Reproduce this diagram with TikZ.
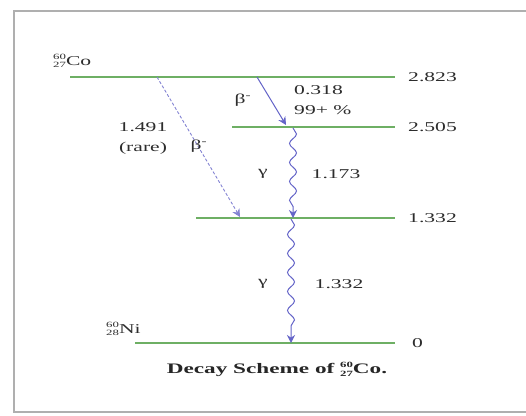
\documentclass[tikz,border=0pt]{standalone}
\usepackage{fontspec}
\setmainfont{Liberation Serif}[FakeStretch=1.6]
\usetikzlibrary{decorations.pathmorphing,arrows.meta}
\definecolor{lvl}{RGB}{110,175,100}
\definecolor{arr}{RGB}{100,100,200}
\definecolor{txt}{RGB}{45,45,45}
\definecolor{frm}{RGB}{175,175,175}
\newcommand\nucl[3]{{\renewcommand\arraystretch{0.55}\begin{tabular}[c]{@{}r@{}}\fontsize{8}{8}\selectfont #1\\\fontsize{8}{8}\selectfont #2\end{tabular}}#3}
\begin{document}
\begin{tikzpicture}[x=1pt,y=-1pt,
  lvlline/.style={lvl, line width=1.6pt},
  lbl/.style={text=txt, font=\fontsize{13.5}{15}\selectfont, inner sep=0pt},
  betaarrow/.style={arr, line width=1pt, -{Stealth[length=8pt,width=8pt]}},
  dasharrow/.style={arr!80, line width=0.9pt, dash pattern=on 3pt off 2pt, -{Stealth[length=8pt,width=8pt]}},
  gammaarrow/.style={arr, line width=1pt, decorate,
    decoration={snake, amplitude=3.5pt, segment length=19pt, post length=9pt},
    -{Stealth[length=8pt,width=8pt]}}]
\useasboundingbox (0,0) rectangle (526,415);
\fill[white] (0,0) rectangle (526,415);
% frame
\draw[frm, line width=1.8pt] (530,11) -- (14,11) -- (14,412) -- (530,412);
% level coordinates
\coordinate (L0a) at (70,77);  \coordinate (L0b) at (395,77);
\coordinate (L1a) at (232,127); \coordinate (L1b) at (395,127);
\coordinate (L2a) at (196,218); \coordinate (L2b) at (395,218);
\coordinate (L3a) at (135,343); \coordinate (L3b) at (395,343);
\draw[lvlline] (L0a) -- (L0b);
\draw[lvlline] (L1a) -- (L1b);
\draw[lvlline] (L2a) -- (L2b);
\draw[lvlline] (L3a) -- (L3b);
% energy labels
\node[lbl, anchor=west] (e0) at (408,77) {2.823};
\node[lbl, anchor=west] (e1) at (408,127) {2.505};
\node[lbl, anchor=west] (e2) at (408,218) {1.332};
\node[lbl, anchor=west] (e3) at (412,343) {0};
% nuclide labels
\node[lbl, anchor=west] (co) at (53,62) {\nucl{60}{27}{Co}};
\node[lbl, anchor=west] (ni) at (106,330) {\nucl{60}{28}{Ni}};
% arrows
\coordinate (d0) at (157,77); \coordinate (d1) at (240,217);
\coordinate (b0) at (257,77); \coordinate (b1) at (286,125);
\coordinate (g0) at (293,128); \coordinate (g1) at (293,218);
\coordinate (g2) at (291,219); \coordinate (g3) at (291,343);
\draw[dasharrow] (d0) -- (d1);
\draw[betaarrow] (b0) -- (b1);
\draw[gammaarrow] (g0) -- (g1);
\draw[gammaarrow] (g2) -- (g3);
% transition labels
\node[lbl] (bs) at (243,100) {β\textsuperscript{-}};
\node[lbl, anchor=west] (p1) at (294,90) {0.318};
\node[lbl, anchor=west] (p2) at (294,110) {99+ \%};
\node[lbl] (r1) at (143,127) {1.491};
\node[lbl] (r2) at (143,148) {(rare)};
\node[lbl] (bd) at (199,146) {β\textsuperscript{-}};
\node[lbl] (ga1) at (263,174) {γ};
\node[lbl] (en1) at (336,174) {1.173};
\node[lbl] (ga2) at (263,284) {γ};
\node[lbl] (en2) at (339,284) {1.332};
% caption
\node[lbl, font=\fontsize{14.5}{16}\selectfont\bfseries, text=black!85] (cap) at (277,370) {Decay Scheme of \nucl{60}{27}{Co.}};
\end{tikzpicture}
\end{document}
